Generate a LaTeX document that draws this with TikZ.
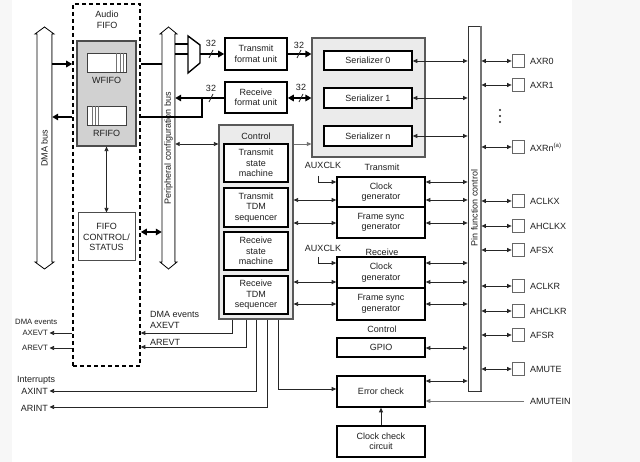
\documentclass[tikz,border=0pt]{standalone}
\usepackage{fontspec}
\setmainfont{Liberation Sans}
\usetikzlibrary{arrows.meta}
\begin{document}
\begin{tikzpicture}[x=1pt,y=-1pt,
  every node/.style={text=black!88, inner sep=0pt, font=\fontsize{9}{10.5}\selectfont},
  ar/.style={-{Triangle[length=4.5pt,width=4pt]}},
  dar/.style={{Triangle[length=4.5pt,width=4pt]}-{Triangle[length=4.5pt,width=4pt]}},
  far/.style={-{Triangle[length=6pt,width=6.5pt]}},
  fdar/.style={{Triangle[length=6pt,width=6.5pt]}-{Triangle[length=6pt,width=6.5pt]}},
  conn/.style={draw=black!85, line width=0.75pt},
  gconn/.style={draw=black!55, line width=0.9pt},
  fat/.style={draw=black, line width=2.2pt},
  box/.style={draw=black, line width=1.6pt, fill=white, align=center},
  lbox/.style={draw=black!70, line width=1pt, fill=white, align=center},
  pinbox/.style={draw=black!60, line width=0.8pt, fill=white, minimum width=12pt, minimum height=13pt},
  grp/.style={draw=black!65, line width=1.2pt, fill=black!8},
  lbl/.style={anchor=west},
  small/.style={font=\fontsize{7.7}{9}\selectfont},
  busshape/.style={draw=black, line width=0.8pt, fill=white},
]
% background
\fill[white] (0,0) rectangle (640,462);
\fill[black!3] (0,0) rectangle (12,462);
\fill[black!3] (572,0) rectangle (640,462);
\useasboundingbox (0,0) rectangle (640,462);

% ---------- buses ----------
\node[minimum width=15pt, minimum height=242pt] (dma) at (44.5,148) {};
\draw[busshape] (37,34) -- (35,34) -- (44.5,27) -- (54,34) -- (52,34) -- (52,262) -- (54,262) -- (44.5,269) -- (35,262) -- (37,262) -- cycle;
\draw[black!50, line width=1.2pt] (51.6,34) -- (51.6,262);
\node[rotate=90] (dmal) at (44.5,148) {DMA bus};

\node[minimum width=13pt, minimum height=242pt] (pcb) at (168.5,148) {};
\draw[busshape] (162,34) -- (160,34) -- (168.5,27) -- (177,34) -- (175,34) -- (175,262) -- (177,262) -- (168.5,269) -- (160,262) -- (162,262) -- cycle;
\draw[black!50, line width=1.2pt] (174.6,34) -- (174.6,262);
\node[rotate=90] (pcbl) at (168.5,148) {Peripheral configuration bus};

% ---------- audio FIFO ----------
\node[draw=black, line width=1.6pt, dash pattern=on 4pt off 3pt, minimum width=67pt, minimum height=362pt] (afifo) at (106.5,185) {};
\node[align=center] (afl) at (107,20) {Audio\\FIFO};
\node[draw=black!70, line width=1.2pt, fill=black!18, minimum width=59pt, minimum height=105pt] (gfifo) at (106.5,93.5) {};
\node[draw=black!75, line width=0.8pt, fill=white, minimum width=39pt, minimum height=19pt] (wf) at (106.5,62.5) {};
\draw[black!55, line width=0.6pt] (116,53) -- (116,72) (120,53) -- (120,72) (123,53) -- (123,72);
\node (wfl) at (106.5,80) {WFIFO};
\node[draw=black!75, line width=0.8pt, fill=white, minimum width=39pt, minimum height=19pt] (rf) at (106.5,115.5) {};
\draw[black!55, line width=0.6pt] (92,106) -- (92,125) (95,106) -- (95,125) (98,106) -- (98,125);
\node (rfl) at (106.5,133) {RFIFO};
\node[lbox, minimum width=57pt, minimum height=48pt] (fifoctl) at (106.5,237) {FIFO\\CONTROL/\\STATUS};

% ---------- mux and format units ----------
\draw[line width=1.4pt, fill=white] (188,36) -- (200,45) -- (200,63) -- (188,73) -- cycle;
\coordinate (muxout) at (200,54);
\coordinate (muxin1) at (188,44);
\coordinate (muxin2) at (188,54);
\node[box, minimum width=62pt, minimum height=32pt] (txfmt) at (256,54) {Transmit\\format unit};
\node[box, minimum width=62pt, minimum height=31pt] (rxfmt) at (256,97.5) {Receive\\format unit};

% ---------- serializers ----------
\node[grp, minimum width=113pt, minimum height=119pt] (serbox) at (368.5,97.5) {};
\node[box, minimum width=88pt, minimum height=19pt] (ser0) at (368,60.5) {Serializer 0};
\node[box, minimum width=88pt, minimum height=20pt] (ser1) at (368,98) {Serializer 1};
\node[box, minimum width=88pt, minimum height=20pt] (sern) at (368,136) {Serializer n};

% ---------- control ----------
\node[grp, minimum width=74pt, minimum height=194pt] (ctrl) at (256,222) {};
\node (ctrll) at (256,136) {Control};
\node[box, minimum width=64pt, minimum height=38pt] (tsm) at (256,163) {Transmit\\state\\machine};
\node[box, minimum width=64pt, minimum height=39pt] (ttdm) at (256,207.5) {Transmit\\TDM\\sequencer};
\node[box, minimum width=64pt, minimum height=38pt] (rsm) at (256,251) {Receive\\state\\machine};
\node[box, minimum width=64pt, minimum height=38pt] (rtdm) at (256,295) {Receive\\TDM\\sequencer};

% ---------- clock generators ----------
\node (txl) at (382,167) {Transmit};
\node (auxt) at (323,165) {AUXCLK};
\node[box, minimum width=88pt, minimum height=30pt] (txcg) at (381,192) {Clock\\generator};
\node[box, minimum width=88pt, minimum height=31pt] (txfs) at (381,222.5) {Frame sync\\generator};
\node (rxl) at (382,252) {Receive};
\node (auxr) at (323,248) {AUXCLK};
\node[box, minimum width=88pt, minimum height=31pt] (rxcg) at (381,272.5) {Clock\\generator};
\node[box, minimum width=88pt, minimum height=32pt] (rxfs) at (381,304) {Frame sync\\generator};
\node (ctl2) at (382,329) {Control};
\node[box, minimum width=88pt, minimum height=19pt] (gpio) at (381,347.5) {GPIO};
\node[box, minimum width=88pt, minimum height=31pt] (errchk) at (381,391.5) {Error check};
\node[box, minimum width=88pt, minimum height=31pt] (clkchk) at (381,441.5) {Clock check\\circuit};

% ---------- pin function control ----------
\node[draw=black!80, line width=0.8pt, fill=white, minimum width=13pt, minimum height=365pt] (pfc) at (474.5,208.5) {};
\draw[black!55, line width=1.5pt] (481,26) -- (481,391);
\node[rotate=90] (pfcl) at (474.5,208) {Pin function control};

% pins
\node[pinbox] (p0) at (518,61) {};   \node[lbl] (p0l) at (530,61) {AXR0};
\node[pinbox] (p1) at (518,85) {};   \node[lbl] (p1l) at (530,85) {AXR1};
\node[pinbox] (pn) at (518,147) {};  \node[lbl] (pnl) at (530,147) {AXRn\textsuperscript{(a)}};
\node[pinbox] (p3) at (518,201) {};  \node[lbl] (p3l) at (530,201) {ACLKX};
\node[pinbox] (p4) at (518,226) {};  \node[lbl] (p4l) at (530,226) {AHCLKX};
\node[pinbox] (p5) at (518,250) {};  \node[lbl] (p5l) at (530,250) {AFSX};
\node[pinbox] (p6) at (518,286) {};  \node[lbl] (p6l) at (530,286) {ACLKR};
\node[pinbox] (p7) at (518,311) {};  \node[lbl] (p7l) at (530,311) {AHCLKR};
\node[pinbox] (p8) at (518,335) {};  \node[lbl] (p8l) at (530,335) {AFSR};
\node[pinbox] (p9) at (518,369) {};  \node[lbl] (p9l) at (530,369) {AMUTE};
\node[lbl] (amutein) at (530,401) {AMUTEIN};
\fill[black!85] (500,110) circle (1.2pt) (500,116) circle (1.2pt) (500,122) circle (1.2pt);

% ---------- left-side labels ----------
\node[small, anchor=west] (dmae1) at (15,322) {DMA events};
\node[small, anchor=east] (axevt1) at (48,333) {AXEVT};
\node[small, anchor=east] (arevt1) at (48,348) {AREVT};
\node[anchor=west] (dmae2) at (150,314) {DMA events};
\node[anchor=west] (axevt2) at (150,325) {AXEVT};
\node[anchor=west] (arevt2) at (150,342) {AREVT};
\node[anchor=west] (intl) at (17,380) {Interrupts};
\node[anchor=east] (axint) at (48,391) {AXINT};
\node[anchor=east] (arint) at (48,408) {ARINT};

% ---------- connectors: data paths ----------
\draw[fat,far] (dma.east |- 0,64) -- (afifo.west |- 0,64);
\draw[fat,far] (afifo.west |- 0,117) -- (dma.east |- 0,117);
\draw[fat] (afifo.east |- 0,64) -- (pcb.west |- 0,64);
\draw[fat] (pcb.east |- muxin1) -- (muxin1);
\draw[fat] (pcb.east |- muxin2) -- (muxin2);
\draw[fat,far] (muxout) -- (txfmt.west);
\draw[fat,far] (txfmt.east) -- (serbox.west |- txfmt.east);
\draw[fat,fdar] (rxfmt.east |- 0,98) -- (serbox.west |- 0,98);
\draw[fat,far] (rxfmt.west |- 0,98) -- (pcb.east |- 0,98);
\draw[fat] (202,98) -- (202,117) -- (afifo.east |- 0,117);
\draw[fat,fdar] (afifo.east |- 0,232) -- (pcb.west |- 0,232);
\draw[conn,dar] (gfifo.south) -- (fifoctl.north);

% width ticks and labels
\draw[conn] (209,58) -- (213,50);  \node (w1) at (211,43) {32};
\draw[conn] (297,58) -- (301,50);  \node (w2) at (299,45) {32};
\draw[conn] (209,102) -- (213,94); \node (w3) at (211,88) {32};
\draw[conn] (299,102) -- (303,94); \node (w4) at (301,87) {32};

% control connections
\draw[conn,dar] (pcb.east |- 0,144) -- (ctrl.west |- 0,144);
\draw[gconn,ar] (ctrl.east |- 0,144) -- (serbox.west |- 0,144);
\draw[conn,dar] (ctrl.east |- 0,200) -- (txcg.west |- 0,200);
\draw[conn,dar] (ctrl.east |- 0,223) -- (txfs.west |- 0,223);
\draw[conn,dar] (ctrl.east |- 0,282) -- (rxcg.west |- 0,282);
\draw[conn,dar] (ctrl.east |- 0,304) -- (rxfs.west |- 0,304);

% AUXCLK
\coordinate (auxtc) at (318,176);
\coordinate (auxrc) at (318,257);
\draw[conn,ar] (auxtc) -- (318,182) -- (txcg.west |- 0,182);
\draw[conn,ar] (auxrc) -- (318,263) -- (rxcg.west |- 0,263);

% serializers to pin function control
\draw[conn,dar] (ser0.east |- 0,61) -- (pfc.west |- 0,61);
\draw[conn,dar] (ser1.east |- 0,98) -- (pfc.west |- 0,98);
\draw[conn,dar] (sern.east |- 0,136) -- (pfc.west |- 0,136);
% clocks to pin function control
\draw[conn,dar] (txcg.east |- 0,182) -- (pfc.west |- 0,182);
\draw[conn,dar] (txcg.east |- 0,200) -- (pfc.west |- 0,200);
\draw[conn,dar] (txfs.east |- 0,223) -- (pfc.west |- 0,223);
\draw[conn,dar] (rxcg.east |- 0,263) -- (pfc.west |- 0,263);
\draw[conn,dar] (rxcg.east |- 0,282) -- (pfc.west |- 0,282);
\draw[conn,dar] (rxfs.east |- 0,304) -- (pfc.west |- 0,304);
\draw[conn,dar] (gpio.east |- 0,348) -- (pfc.west |- 0,348);
\draw[conn,dar] (errchk.east |- 0,381) -- (pfc.west |- 0,381);

% pins
\foreach \p in {p0,p1,pn,p3,p4,p5,p6,p7,p8,p9}
  \draw[conn,dar] (pfc.east |- \p.west) -- (\p.west);

% error check inputs
\draw[gconn,ar] ([xshift=-6pt]amutein.west) -- (errchk.east |- amutein.west);
\draw[conn,ar] (clkchk.north) -- (errchk.south);

% control bottom outputs
\draw[conn,ar] (ctrl.south -| 232,0) -- (232,333) -- (afifo.east |- 0,333);
\draw[conn,ar] (ctrl.south -| 246,0) -- (246,347) -- (afifo.east |- 0,347);
\draw[conn,ar,shorten >=1.5pt] (ctrl.south -| 256,0) -- (256,391) -- (axint.east);
\draw[conn,ar,shorten >=1.5pt] (ctrl.south -| 267,0) -- (267,407) -- (arint.east |- 0,407);
\draw[conn,ar] (ctrl.south -| 278,0) -- (278,389) -- (errchk.west |- 0,389);

% DMA events out of the FIFO
\draw[conn,ar,shorten >=1.5pt] (afifo.west |- axevt1) -- (axevt1.east);
\draw[conn,ar,shorten >=1.5pt] (afifo.west |- arevt1) -- (arevt1.east);
\end{tikzpicture}
\end{document}
